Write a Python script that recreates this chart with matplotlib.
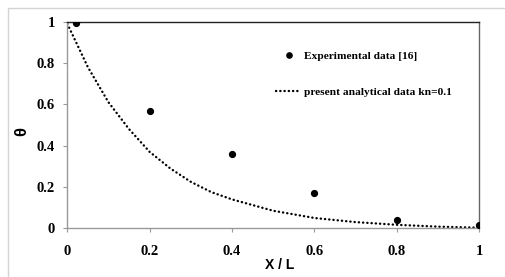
import matplotlib
matplotlib.use("Agg")
import matplotlib.pyplot as plt
from matplotlib.patches import Rectangle

# Data
exp_x = [0.02, 0.2, 0.4, 0.6, 0.8, 1.0]
exp_y = [0.995, 0.57, 0.36, 0.17, 0.04, 0.017]

model_x = [0.0, 0.05, 0.1, 0.15, 0.2, 0.25, 0.3, 0.35, 0.4, 0.5, 0.6, 0.7, 0.8, 0.9, 1.0]
model_y = [0.99, 0.78, 0.61, 0.48, 0.37, 0.29, 0.225, 0.175, 0.14, 0.085, 0.05, 0.03, 0.017, 0.008, 0.003]

xticks = [0, 0.2, 0.4, 0.6, 0.8, 1]
xticklabels = ["0", "0.2", "0.4", "0.6", "0.8", "1"]
yticks = [0, 0.2, 0.4, 0.6, 0.8, 1]
yticklabels = ["0", "0.2", "0.4", "0.6", "0.8", "1"]

W, H = 505, 277
fig = plt.figure(figsize=(W / 100, H / 100), dpi=100)

# outer light border
fig.patches.append(Rectangle((8 / W, -0.1), 1.2, 1 - 8 / H + 0.1, transform=fig.transFigure,
                             fill=False, edgecolor="#d4d4d4", linewidth=1.0))

ax = fig.add_axes([67.3 / W, 1 - 228.3 / H, (479 - 67.3) / W, (228.3 - 21.7) / H])

serif = "Liberation Serif"
sans = "Liberation Sans"

ax.plot(exp_x, exp_y, linestyle="none", marker="o", color="black", markersize=4.2,
        label="Experimental data [16]", zorder=3)
ax.plot(model_x, model_y, color="black", linewidth=1.7, linestyle=(0, (0.1, 1.7)),
        dash_capstyle="round", label="present analytical data kn=0.1", zorder=2)

ax.set_xlim(0, 1)
ax.set_ylim(0, 1)
ax.set_xticks(xticks)
ax.set_xticklabels(xticklabels, fontfamily=serif, fontweight="bold", fontsize=10.5)
ax.set_yticks(yticks)
ax.set_yticklabels(yticklabels, fontfamily=serif, fontweight="bold", fontsize=10.5)

ax.spines["top"].set_color("#222222")
ax.spines["right"].set_color("#666666")
ax.spines["left"].set_color("#999999")
ax.spines["bottom"].set_color("#999999")
for s in ax.spines.values():
    s.set_linewidth(1.0)

ax.tick_params(axis="x", direction="out", length=3, color="#999999", pad=9)
ax.tick_params(axis="y", direction="out", length=3, color="#999999", pad=6)

fig.text(280 / W, 1 - 265 / H, "X / L", fontfamily=sans, fontweight="bold", fontsize=10,
         ha="center", va="center")
fig.text(22 / W, 1 - 131 / H, "θ", fontfamily=sans, fontweight="bold", fontsize=12,
         ha="center", va="center", rotation=90)

leg = ax.legend(loc="upper left", bbox_to_anchor=(276 / W, 1 - 51 / H),
                bbox_transform=fig.transFigure, frameon=False,
                prop={"family": serif, "weight": "bold", "size": 8.2},
                handlelength=2.2, handletextpad=0.3, labelspacing=2.3,
                borderpad=0, borderaxespad=0, markerscale=0.9)

fig.savefig("out.png", dpi=100)
